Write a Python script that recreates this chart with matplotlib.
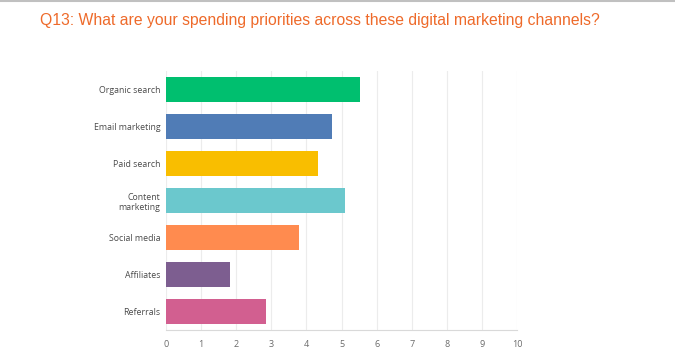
import matplotlib.pyplot as plt
import numpy as np

# dados do gráfico
canais = ["Organic search", "Email marketing", "Paid search", "Content\nmarketing",
          "Social media", "Affiliates", "Referrals"]
valores = [5.53, 4.73, 4.33, 5.11, 3.80, 1.83, 2.85]
cores = ["#00BF6F", "#507CB6", "#F9BE00", "#6BC8CD", "#FF8B4F", "#7D5E90", "#D25F90"]
ticks_x = list(range(0, 11))
titulo = "Q13: What are your spending priorities across these digital marketing channels?"

fig = plt.figure(figsize=(6.75, 3.58), dpi=100)
ax = fig.add_axes([166 / 675, 1 - 330 / 358, (517 - 166) / 675, (330 - 71) / 358])

y = np.arange(len(canais))
ax.barh(y, valores, height=0.7, color=cores, zorder=3)
ax.set_ylim(len(canais) - 0.5, -0.5)
ax.set_xlim(0, 10)
ax.set_yticks(y)
ax.set_yticklabels(canais, fontsize=6.3, color="#4a4a4a", family="Open Sans")
ax.set_xticks(ticks_x)
ax.set_xticklabels([str(t) for t in ticks_x], fontsize=6.5, color="#6a6a6a", family="Open Sans")
ax.tick_params(axis="y", length=0, pad=4)
ax.tick_params(axis="x", length=0, pad=7)
ax.grid(axis="x", color="#ececec", linewidth=0.8, zorder=0)
for s in ["top", "right", "left"]:
    ax.spines[s].set_visible(False)
ax.spines["bottom"].set_color("#d9d9d9")

fig.text(40 / 675, 1 - 20 / 358, titulo, fontsize=11.3, color="#EE6A2A",
         family="Liberation Sans", va="center", ha="left")
fig.add_artist(plt.Line2D([0, 1], [0.998, 0.998], color="#c0c0c0", linewidth=1.5))

plt.savefig("out.png", dpi=100)
